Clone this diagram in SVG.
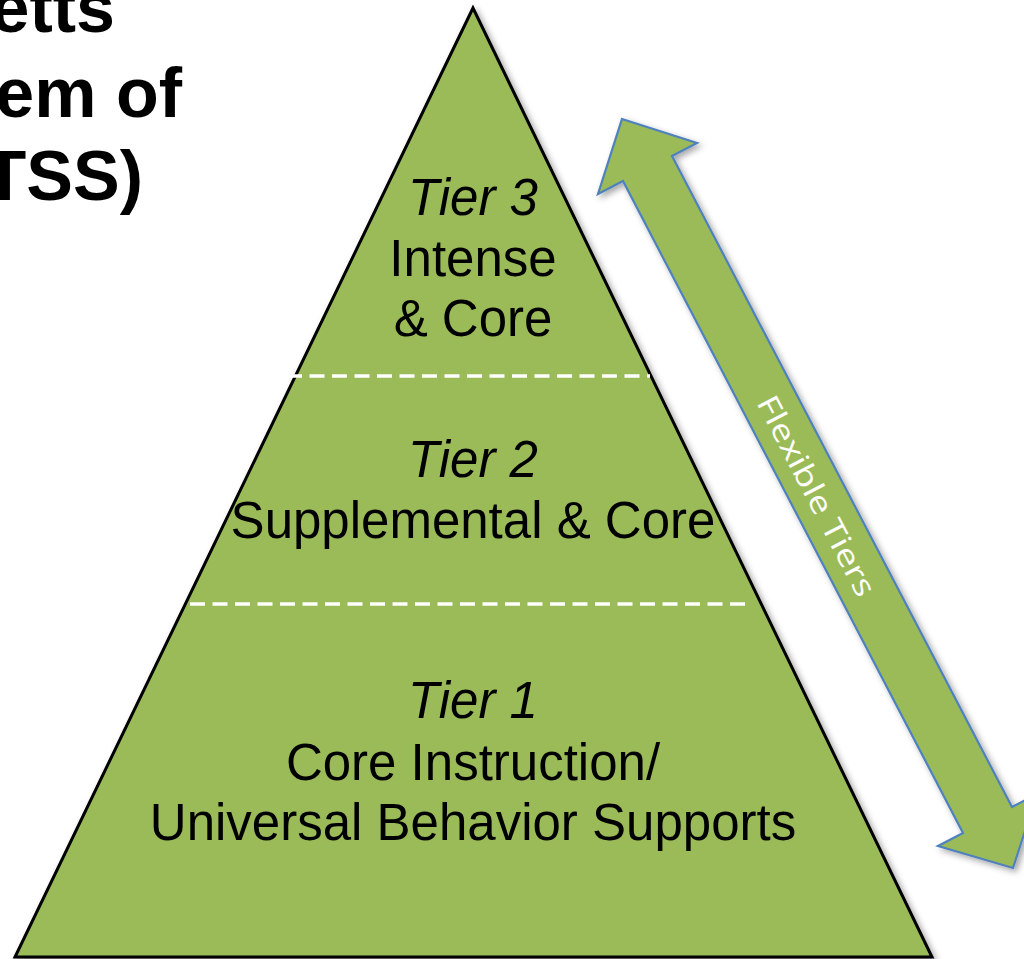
<svg xmlns="http://www.w3.org/2000/svg" width="1024" height="959" viewBox="0 0 1024 959">
<defs>
<filter id="sh" x="-10%" y="-10%" width="130%" height="130%">
<feDropShadow dx="3" dy="3" stdDeviation="3" flood-color="#000" flood-opacity="0.35"/>
</filter>
<filter id="blur" x="-5%" y="-200%" width="110%" height="500%">
<feGaussianBlur stdDeviation="1.5"/>
</filter>
</defs>
<style>
.tier{font-family:"Liberation Sans",Arial,sans-serif;font-size:51px;fill:#000;text-anchor:middle}
.it{font-style:italic}
.title{font-family:"Liberation Sans",Arial,sans-serif;font-size:70px;font-weight:bold;fill:#000;text-anchor:end}
.dash{stroke:#fff;stroke-width:3.5;stroke-dasharray:15 7.5;fill:none}
.dshadow{stroke:#5e7a2c;stroke-width:3;opacity:0.6;fill:none}
</style>
<rect width="1024" height="959" fill="#fff"/>
<g id="title">
<text class="title" x="115" y="32">etts</text>
<text class="title" x="182" y="117">em of</text>
<text class="title" x="143" y="200">TSS)</text>
</g>
<g id="pyramid">
<polygon points="473,8 15,957 932,957" fill="#9bbb59" stroke="#000" stroke-width="3" stroke-linejoin="miter" filter="url(#sh)"/>
</g>
<g id="dividers">
<line x1="278" y1="379" x2="660" y2="379" stroke="#999" stroke-width="2" opacity="0.5" filter="url(#blur)"/>
<line class="dash" x1="287" y1="376" x2="650" y2="376"/>
<line class="dshadow" x1="190" y1="609" x2="755" y2="609" filter="url(#blur)"/>
<line class="dash" x1="190" y1="604" x2="752" y2="604"/>
</g>
<g id="tier3">
<text class="tier it" x="473" y="215">Tier 3</text>
<text class="tier" x="473" y="276">Intense</text>
<text class="tier" x="473" y="336">&amp; Core</text>
</g>
<g id="tier2">
<text class="tier it" x="473" y="477">Tier 2</text>
<text class="tier" x="473" y="538">Supplemental &amp; Core</text>
</g>
<g id="tier1">
<text class="tier it" x="473" y="718">Tier 1</text>
<text class="tier" x="473" y="780">Core Instruction/</text>
<text class="tier" x="473" y="840">Universal Behavior Supports</text>
</g>
<g id="connectors">
<g id="flexible-arrow">
<polygon points="622,119 697,143 672,156 1012,807 1037,794 1013,868 938,846 963,833 623,181 598,194" fill="#9bbb59" stroke="#4f81bd" stroke-width="2.2" stroke-linejoin="miter" filter="url(#sh)"/>
<text transform="translate(816,496) rotate(62.5)" x="0" y="10" font-family="'Open Sans','Noto Sans',sans-serif" font-size="30" fill="#fff" text-anchor="middle" textLength="222" lengthAdjust="spacingAndGlyphs">Flexible Tiers</text>
</g>
</g>
</svg>
